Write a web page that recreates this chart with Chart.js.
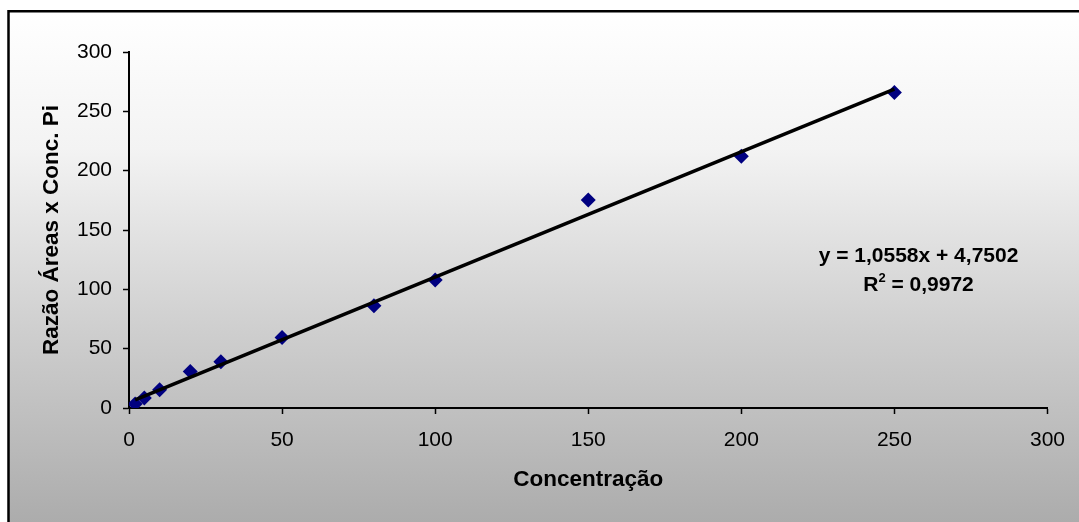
<!DOCTYPE html>
<html>
<head>
<meta charset="utf-8">
<script src="https://cdn.jsdelivr.net/npm/chart.js@4/dist/chart.umd.min.js"></script>
<style>
  html, body { margin: 0; padding: 0; background: #ffffff; }
  #wrap { width: 1079px; height: 522px; }
</style>
</head>
<body>
<div id="wrap"><canvas id="c" width="1079" height="522"></canvas></div>
<script>
// Calibration points: concentration vs. area ratio
const concentracao = [2, 5, 10, 20, 30, 50, 80, 100, 150, 200, 250];
const razaoAreas = [3.4, 8.4, 15.4, 30.8, 38.9, 59.4, 86.1, 107.9, 175.2, 212.2, 265.8];

// Linear fit reported on the chart
const slope = 1.0558;
const intercept = 4.7502;
const r2Text = '0,9972';
const eqText = 'y = 1,0558x + 4,7502';

// Axis ranges and tick step
const xRange = [0, 300];
const yRange = [0, 300];
const tickStep = 50;

const xTitle = 'Concentração';
const yTitle = 'Razão Áreas x Conc. Pi';

const fontFamily = '"Liberation Sans", Arial, Helvetica, sans-serif';

const scatterPts = concentracao.map((x, i) => ({ x, y: razaoAreas[i] }));
const xFirst = concentracao[0];
const xLast = concentracao[concentracao.length - 1];
const fitPts = [
  { x: xFirst, y: slope * xFirst + intercept },
  { x: xLast, y: slope * xLast + intercept }
];

// Chart background: grey gradient with a black frame
const backdrop = {
  id: 'backdrop',
  beforeDraw(chart) {
    const { ctx, width, height } = chart;
    ctx.save();
    ctx.fillStyle = '#ffffff';
    ctx.fillRect(0, 0, width, height);
    const g = ctx.createLinearGradient(0, 11, 0, height);
    g.addColorStop(0, '#ffffff');
    g.addColorStop(0.27, '#f3f3f3');
    g.addColorStop(0.62, '#cfcfcf');
    g.addColorStop(1, '#acacac');
    ctx.fillStyle = g;
    ctx.fillRect(8, 11, width, height);
    ctx.strokeStyle = '#000000';
    ctx.lineWidth = 2.5;
    ctx.strokeRect(8.5, 11.25, width + 20, height + 20);
    ctx.restore();
  }
};

// Regression equation and R² label
const equation = {
  id: 'equation',
  afterDraw(chart) {
    const { ctx } = chart;
    const cx = 918.5;
    ctx.save();
    ctx.fillStyle = '#000000';
    ctx.textBaseline = 'alphabetic';
    ctx.font = 'bold 21px ' + fontFamily;
    ctx.textAlign = 'center';
    ctx.fillText(eqText, cx, 262);

    const bigFont = 'bold 21px ' + fontFamily;
    const supFont = 'bold 13px ' + fontFamily;
    ctx.font = bigFont;
    const wR = ctx.measureText('R').width;
    const rest = ' = ' + r2Text;
    const wRest = ctx.measureText(rest).width;
    ctx.font = supFont;
    const wSup = ctx.measureText('2').width;
    const total = wR + wSup + wRest;
    let x = cx - total / 2;
    ctx.textAlign = 'left';
    ctx.font = bigFont;
    ctx.fillText('R', x, 291);
    x += wR;
    ctx.font = supFont;
    ctx.fillText('2', x, 282);
    x += wSup;
    ctx.font = bigFont;
    ctx.fillText(rest, x, 291);
    ctx.restore();
  }
};

const tickFont = { family: fontFamily, size: 21, weight: 'normal' };
const titleFont = { family: fontFamily, size: 22.5, weight: 'bold' };

new Chart(document.getElementById('c'), {
  type: 'scatter',
  data: {
    datasets: [
      {
        label: 'Ajuste linear',
        type: 'line',
        data: fitPts,
        borderColor: '#000000',
        borderWidth: 3.6,
        pointRadius: 0,
        fill: false,
        order: 0
      },
      {
        label: 'Razão',
        data: scatterPts,
        pointStyle: 'rectRot',
        pointRadius: 7.5,
        pointBorderWidth: 0,
        backgroundColor: '#000080',
        borderColor: '#000080',
        order: 1
      }
    ]
  },
  options: {
    responsive: false,
    animation: false,
    devicePixelRatio: 1,
    layout: { padding: { left: 0, top: 52, right: 29, bottom: 0 } },
    plugins: {
      legend: { display: false },
      tooltip: { enabled: false }
    },
    scales: {
      x: {
        type: 'linear',
        min: xRange[0],
        max: xRange[1],
        ticks: { stepSize: tickStep, color: '#000000', font: tickFont, padding: 14, maxRotation: 0 },
        grid: { drawOnChartArea: false, drawTicks: true, tickLength: 6, tickColor: '#000000', tickWidth: 1.5 },
        border: { display: true, color: '#000000', width: 2 },
        title: { display: true, text: xTitle, color: '#000000', font: titleFont, padding: { top: 0, bottom: 28.5 } },
        afterFit(scale) { scale.height = 114; }
      },
      y: {
        type: 'linear',
        min: yRange[0],
        max: yRange[1],
        ticks: { stepSize: tickStep, color: '#000000', font: tickFont, padding: 11 },
        grid: { drawOnChartArea: false, drawTicks: true, tickLength: 6, tickColor: '#000000', tickWidth: 1.5 },
        border: { display: true, color: '#000000', width: 2 },
        title: { display: true, text: yTitle, color: '#000000', font: titleFont, padding: { top: 38, bottom: 0 } },
        afterFit(scale) { scale.width = 129; }
      }
    }
  },
  plugins: [backdrop, equation]
});
</script>
</body>
</html>
